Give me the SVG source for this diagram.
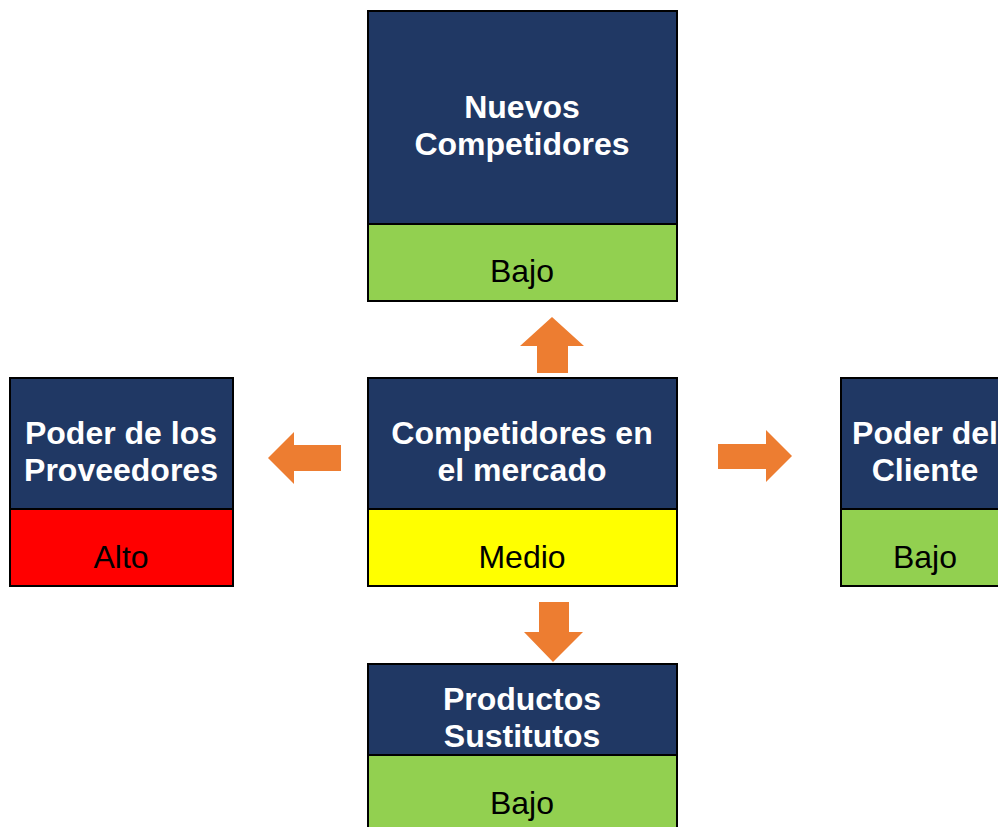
<svg xmlns="http://www.w3.org/2000/svg" width="998" height="827" viewBox="0 0 998 827">
<style>
.hd{fill:#203864;stroke:#000;stroke-width:2}
.ft{stroke:#000;stroke-width:2}
.t{font-family:"Liberation Sans",Arial,sans-serif;font-size:32px;text-anchor:middle}
.w{fill:#fff;font-weight:bold}
.k{fill:#000}
.ar{fill:#ED7D31}
</style>
<rect width="998" height="827" fill="#fff"/>
<g id="nuevos">
<rect class="hd" x="368" y="11" width="309" height="213"/>
<rect class="ft" x="368" y="224" width="309" height="77" fill="#92D050"/>
<text class="t w" x="522" y="118">Nuevos</text>
<text class="t w" x="522" y="155">Competidores</text>
<text class="t k" x="522" y="282">Bajo</text>
</g>
<g id="proveedores">
<rect class="hd" x="10" y="378" width="223" height="131"/>
<rect class="ft" x="10" y="509" width="223" height="77" fill="#FF0000"/>
<text class="t w" x="121" y="444">Poder de los</text>
<text class="t w" x="121" y="481">Proveedores</text>
<text class="t k" x="121" y="568">Alto</text>
</g>
<g id="mercado">
<rect class="hd" x="368" y="378" width="309" height="131"/>
<rect class="ft" x="368" y="509" width="309" height="77" fill="#FFFF00"/>
<text class="t w" x="522" y="444">Competidores en</text>
<text class="t w" x="522" y="481">el mercado</text>
<text class="t k" x="522" y="568">Medio</text>
</g>
<g id="cliente">
<rect class="hd" x="841" y="378" width="309" height="131"/>
<rect class="ft" x="841" y="509" width="309" height="77" fill="#92D050"/>
<text class="t w" x="925" y="444">Poder del</text>
<text class="t w" x="925" y="481">Cliente</text>
<text class="t k" x="925" y="568">Bajo</text>
</g>
<g id="sustitutos">
<rect class="hd" x="368" y="664" width="309" height="91"/>
<rect class="ft" x="368" y="755" width="309" height="90" fill="#92D050"/>
<text class="t w" x="522" y="710">Productos</text>
<text class="t w" x="522" y="747">Sustitutos</text>
<text class="t k" x="522" y="814">Bajo</text>
</g>
<g id="connectors">
<polygon class="ar" points="537,373 537,346 520,346 552,317 584,346 568,346 568,373"/>
<polygon class="ar" points="341,445 294,445 294,432 268,458 294,484 294,471 341,471"/>
<polygon class="ar" points="718,444 766,444 766,430 792,456 766,482 766,469 718,469"/>
<polygon class="ar" points="539,602 569,602 569,632 583,632 553,662 524,632 539,632"/>
</g>
</svg>
